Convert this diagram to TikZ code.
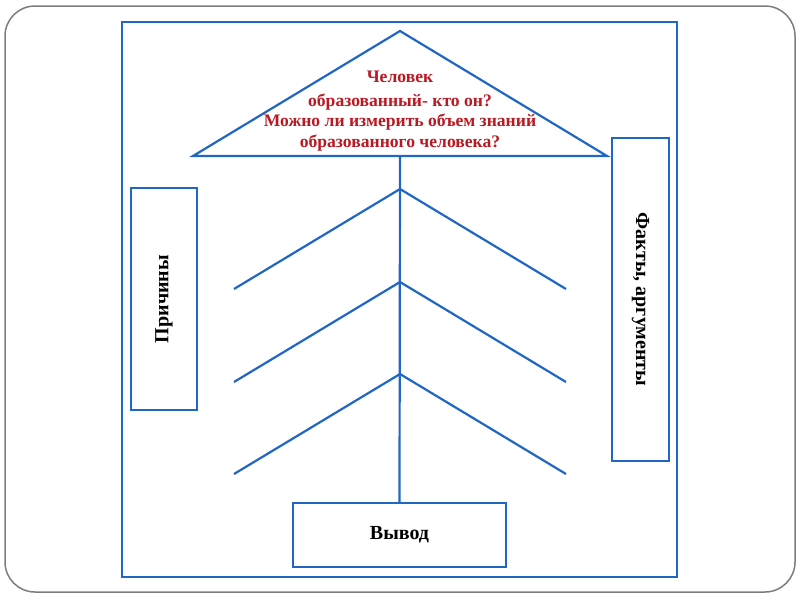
\documentclass[tikz,border=0pt]{standalone}
\usepackage{fontspec}
\setmainfont{Liberation Serif}
\usetikzlibrary{positioning,calc}
\definecolor{frameblue}{RGB}{32,102,196}
\definecolor{askred}{RGB}{185,25,35}
\definecolor{slidegray}{RGB}{125,125,125}
\begin{document}
\begin{tikzpicture}[x=1pt,y=-1pt, font=\bfseries,
  box/.style={draw=frameblue,line width=2.2pt,inner sep=0pt,fill=white},
  branch/.style={draw=frameblue,line width=2.2pt},
  big/.style={font=\bfseries\fontsize{20}{24}\selectfont}]
  \useasboundingbox (0,0) rectangle (800,600);
  % slide and frame
  \draw[slidegray,line width=1.5pt,rounded corners=30pt] (5,6) rectangle (795,592);
  \draw[branch] (122,22) rectangle (677,577);
  % roof
  \coordinate (top) at (400,31);
  \coordinate (eaveL) at (193,156);
  \coordinate (eaveR) at (607,156);
  \draw[branch,line join=miter] (top)--(eaveL)--(eaveR)--cycle;
  \node[askred,align=center,font=\bfseries\fontsize{17.6}{20.5}\selectfont] (ask) at (400,111)
    {Человек\\[3pt] образованный- кто он?\\ Можно ли измерить объем знаний\\ образованного человека?};
  % side boxes and conclusion
  \node[box,minimum width=66pt,minimum height=222pt] (why) at (164,299) {};
  \node[rotate=90,big] at (why) {Причины};
  \node[box,minimum width=57pt,minimum height=323pt] (facts) at (640.5,299.5) {};
  \node[rotate=-90,big] at (facts) {Факты, аргументы};
  \node[box,minimum width=213pt,minimum height=64pt,big] (end) at (399.5,535) {Вывод};
  % stem and branches
  \coordinate (base) at (400,156);
  \draw[branch] (base)--(end.north);
  \foreach \i/\y in {1/189,2/282,3/374}{
    \coordinate (j\i) at (400,\y);
    \coordinate (l\i) at (234,\y+100);
    \coordinate (r\i) at (566,\y+100);
    \draw[branch] (l\i)--(j\i)--(r\i);
  }
\end{tikzpicture}
\end{document}
